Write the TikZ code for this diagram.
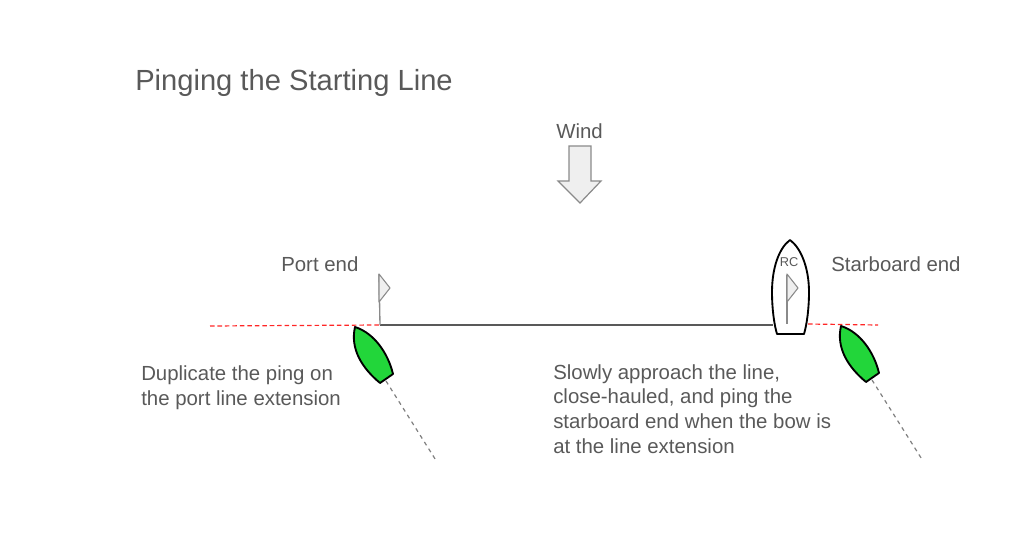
\documentclass[tikz,border=0pt]{standalone}
\usepackage{fontspec}
\setmainfont{Liberation Sans}
\definecolor{txt}{HTML}{595959}
\definecolor{boatgreen}{HTML}{22D63A}
\definecolor{flagfill}{HTML}{EFEFEF}
\definecolor{flagline}{HTML}{8A8A8A}
\tikzset{
 lbl/.style={text=txt,inner sep=0pt,anchor=base west,font=\fontsize{15.3}{18.5}\selectfont,align=left},
 hull/.style={draw=black,line width=1.4pt,fill=boatgreen,line join=round},
 flagshape/.style={draw=flagline,fill=flagfill,line width=.8pt,line join=round},
 pole/.style={draw=flagline,line width=1pt},
 track/.style={draw=gray,line width=.9pt,dash pattern=on 3pt off 3pt},
 laylin/.style={draw=red!85,line width=.9pt,dash pattern=on 3.4pt off 2.2pt},
}
\begin{document}
\begin{tikzpicture}[x=.75pt,y=-.75pt]
\useasboundingbox (0,0) rectangle (1024,538);
\node[text=txt,inner sep=0pt,anchor=base west,font=\fontsize{21.85}{26}\selectfont] (title) at (135,91) {Pinging the Starting Line};
\node[lbl] (wind) at (556,139) {Wind};
\node[lbl] (port) at (281,272) {Port end};
\node[lbl] (star) at (831,272) {Starboard end};
\node[lbl] (dup) at (141,405) {Duplicate the ping on\\the port line extension};
\node[lbl] (slow) at (553,453) {Slowly approach the line,\\close-hauled, and ping the\\starboard end when the bow is\\at the line extension};
% wind arrow
\draw[draw=flagline,fill=flagfill,line width=.9pt,line join=miter] (569,146) -- (591,146) -- (591,181) -- (601,181) -- (580,203) -- (558,181) -- (569,181) -- cycle;
% line
\coordinate (portmark) at (380,325);
\coordinate (rcstern) at (773,325);
\coordinate (redw) at (210,326);
\coordinate (rede) at (878,325);
\coordinate (redm) at (808,324);
\draw[laylin] (redw) -- (portmark);
\draw[laylin] (redm) -- (rede);
\draw[draw=black!65,line width=1.6pt] (portmark) -- (rcstern);
% port flag
\draw[pole] (379,274) -- (portmark);
\draw[flagshape] (379,274) -- (390,288) -- (379,302) -- cycle;
% RC boat
\draw[draw=black,line width=1.4pt,fill=white,line join=round] (790,240)
  .. controls (779,248) and (772,268) .. (772,292)
  .. controls (772,308) and (774,324) .. (777,334)
  -- (804,334)
  .. controls (807,324) and (809,308) .. (809,292)
  .. controls (809,268) and (801,248) .. (790,240) -- cycle;
\node[text=txt,inner sep=0pt,font=\fontsize{9.6}{11}\selectfont] (rc) at (789,262) {RC};
\draw[pole] (787,275) -- (787,324);
\draw[flagshape] (787,274) -- (798,288) -- (787,302) -- cycle;
% boats
\foreach \dx/\dy/\nm in {0/0/a,486/-1/b}{
 \begin{scope}[shift={(\dx,\dy)}]
 \coordinate (tr\nm s) at (386,381);
 \coordinate (tr\nm e) at (437,462);
 \draw[track] (tr\nm s) -- (tr\nm e);
 \draw[hull] (355,327) .. controls (374,333) and (388,353) .. (393,374) -- (380,383)
   .. controls (362,368) and (350,349) .. (355,327) -- cycle;
 \end{scope}
}
\end{tikzpicture}
\end{document}
